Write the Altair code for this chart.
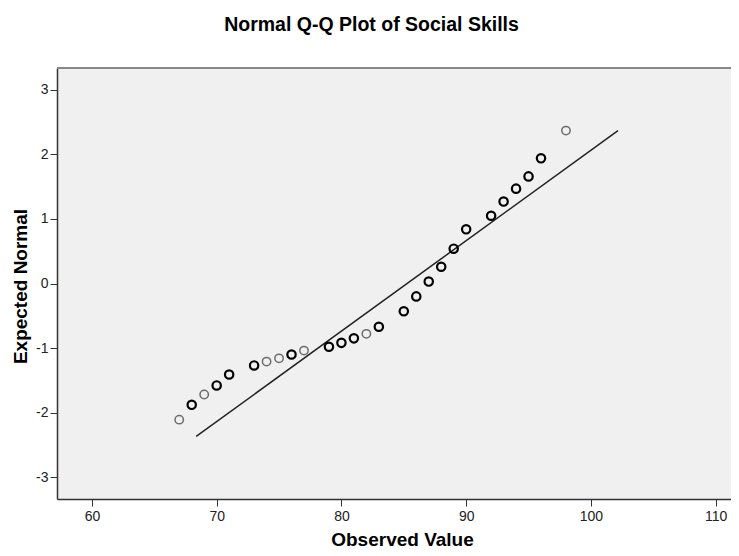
import altair as alt
import pandas as pd

# Observed scores and their expected normal values
observed = [67, 68, 69, 70, 71, 73, 74, 75, 76, 77, 79, 80, 81, 82, 83,
            85, 86, 87, 88, 89, 90, 92, 93, 94, 95, 96, 98]
expected = [-2.11, -1.88, -1.72, -1.58, -1.41, -1.27, -1.21, -1.16, -1.10, -1.04,
            -0.98, -0.92, -0.85, -0.78, -0.67, -0.43, -0.20, 0.03, 0.26, 0.54,
            0.84, 1.05, 1.27, 1.47, 1.66, 1.94, 2.37]
# darker circles = overlapping cases
overlap = [1, 2, 1, 2, 2, 2, 1, 1, 2, 1, 2, 2, 2, 1, 2,
           2, 2, 2, 2, 2, 2, 2, 2, 2, 2, 2, 1]

# reference line end points
line_x = [68.36, 102.17]
line_y = [-2.37, 2.37]

x_ticks = [60, 70, 80, 90, 100, 110]
y_ticks = [-3, -2, -1, 0, 1, 2, 3]

W, H = 674, 431
FONT = "Liberation Sans"

pts = pd.DataFrame({"obs": observed, "exp": expected, "n": overlap})
line_df = pd.DataFrame({"obs": line_x, "exp": line_y})

x_scale = alt.Scale(domain=[57.2, 111.23], nice=False, zero=False)
y_scale = alt.Scale(domain=[-3.34, 3.34], nice=False, zero=False)

x_axis = alt.Axis(values=x_ticks, title="Observed Value", grid=False,
                  labelExpr="'' + datum.value",
                  titleX=345, titleY=46, titleBaseline="alphabetic", titleAlign="center",
                  titleFontSize=19, titleFontWeight="bold", titleFont=FONT, titleColor="#000",
                  labelFontSize=14, labelFont=FONT, labelColor="#222", labelPadding=3,
                  tickSize=7, tickColor="#333", domainColor="#333", domainWidth=1.5)
y_axis = alt.Axis(values=y_ticks, title="Expected Normal", grid=False,
                  labelExpr="'' + datum.value",
                  titleX=-31, titleY=218, titleBaseline="alphabetic", titleAlign="center",
                  titleFontSize=19, titleFontWeight="bold", titleFont=FONT, titleColor="#000",
                  labelFontSize=14, labelFont=FONT, labelColor="#222", labelPadding=2,
                  tickSize=7, tickColor="#333", domainColor="#333", domainWidth=1.5)

points = alt.Chart(pts).mark_point(filled=False, shape="circle", size=70, color="#000",
                                   opacity=1).encode(
    x=alt.X("obs:Q", scale=x_scale, axis=x_axis),
    y=alt.Y("exp:Q", scale=y_scale, axis=y_axis),
    strokeOpacity=alt.StrokeOpacity("n:Q", scale=alt.Scale(domain=[1, 2], range=[0.55, 1.0]), legend=None),
    strokeWidth=alt.StrokeWidth("n:Q", scale=alt.Scale(domain=[1, 2], range=[1.5, 2.2]), legend=None),
)

ref_line = alt.Chart(line_df).mark_line(color="#222", strokeWidth=1.5).encode(
    x=alt.X("obs:Q", scale=x_scale),
    y=alt.Y("exp:Q", scale=y_scale),
)

top_border = alt.Chart(pd.DataFrame({"a": [0]})).mark_rule(color="#888", strokeWidth=2).encode(
    x=alt.value(0), x2=alt.value(W), y=alt.value(0)
)

chart = alt.layer(ref_line, points, top_border).properties(
    width=W, height=H,
    background="white",
    autosize=alt.AutoSizeParams(type="none"),
    padding={"left": 49, "top": 60, "right": 0, "bottom": 49},
    title=alt.TitleParams("Normal Q-Q Plot of Social Skills", fontSize=19.5, font=FONT,
                          fontWeight="bold", anchor="middle", frame="group", dx=-22.5,
                          baseline="alphabetic", offset=17, color="#000"),
).configure_view(fill="#f0f0f0", stroke="transparent")

chart.save("out.html", embed_options={"renderer": "svg", "actions": False})
